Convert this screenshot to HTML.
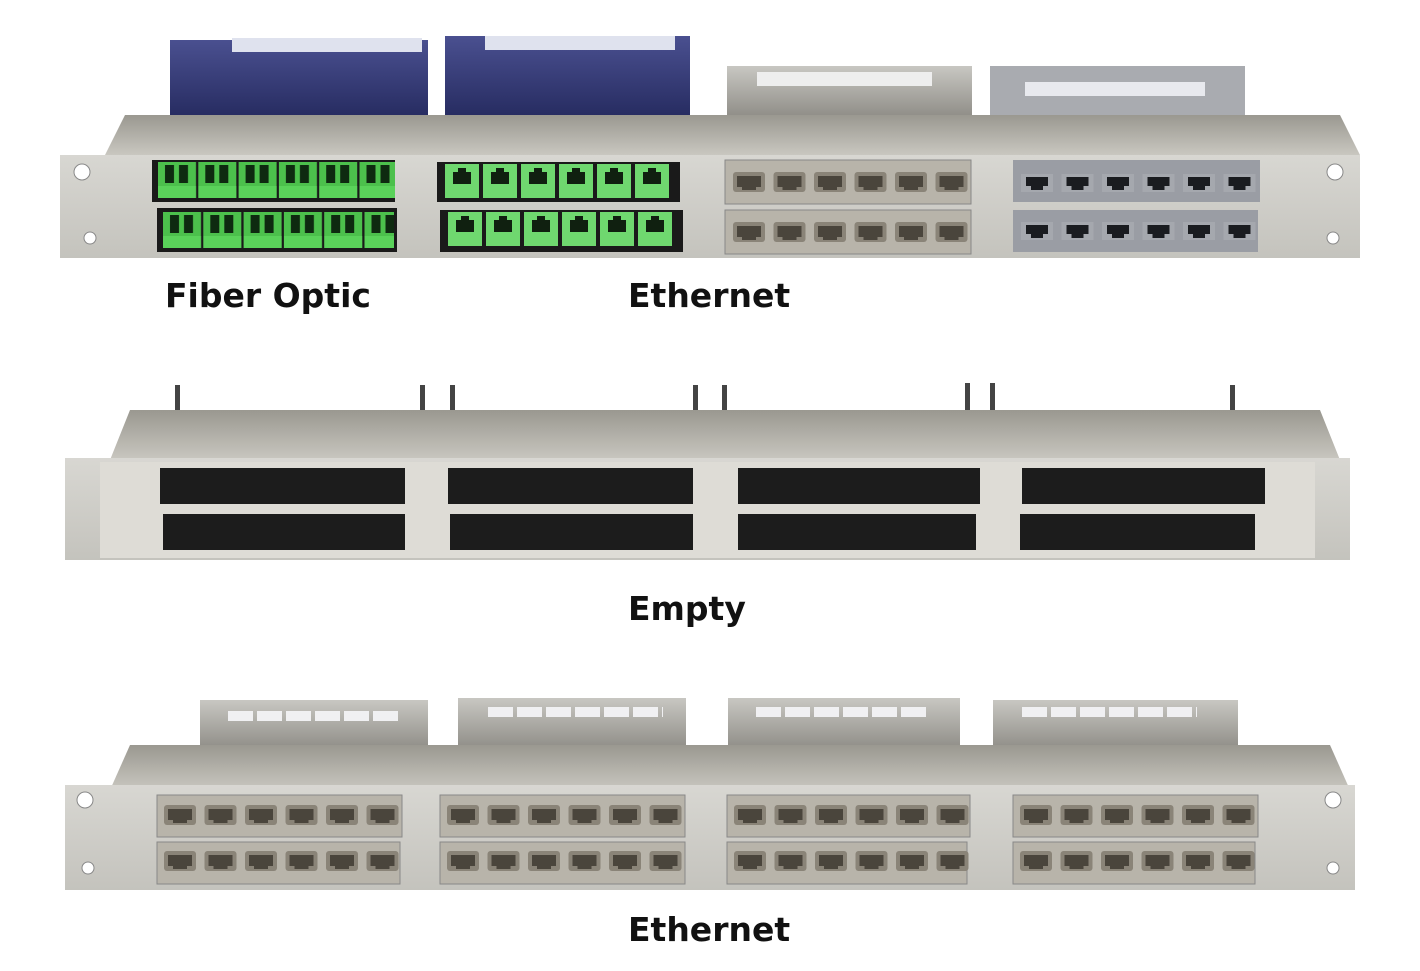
<!DOCTYPE html>
<html><head><meta charset="utf-8"><style>
html,body{margin:0;padding:0;background:#fff;width:1420px;height:971px;overflow:hidden}
svg{display:block}
text{font-family:"DejaVu Sans","Liberation Sans",sans-serif;font-weight:bold;fill:#111}
</style></head><body>
<svg width="1420" height="971" viewBox="0 0 1420 971" xmlns="http://www.w3.org/2000/svg">
<defs>
<linearGradient id="top" x1="0" y1="0" x2="0" y2="1">
<stop offset="0" stop-color="#9a9890"/><stop offset="1" stop-color="#c9c7c0"/></linearGradient>
<linearGradient id="front" x1="0" y1="0" x2="0" y2="1">
<stop offset="0" stop-color="#d8d7d2"/><stop offset="1" stop-color="#c4c3bd"/></linearGradient>
<linearGradient id="blue" x1="0" y1="0" x2="0" y2="1">
<stop offset="0" stop-color="#4a5090"/><stop offset="1" stop-color="#262b60"/></linearGradient>
<linearGradient id="mod" x1="0" y1="0" x2="0" y2="1">
<stop offset="0" stop-color="#c8c7c2"/><stop offset="1" stop-color="#8e8c86"/></linearGradient>
<pattern id="lc" width="40.3" height="40" patternUnits="userSpaceOnUse" x="157" y="160">
<rect x="1" y="2" width="38" height="36" fill="#4cc04c"/>
<rect x="8" y="5" width="9" height="18" fill="#0e2a10"/><rect x="22" y="5" width="9" height="18" fill="#0e2a10"/>
<rect x="1" y="26" width="38" height="12" fill="#5ad25a"/></pattern>
<pattern id="lc2" width="40.3" height="40" patternUnits="userSpaceOnUse" x="162" y="210">
<rect x="1" y="2" width="38" height="36" fill="#4cc04c"/>
<rect x="8" y="5" width="9" height="18" fill="#0e2a10"/><rect x="22" y="5" width="9" height="18" fill="#0e2a10"/>
<rect x="1" y="26" width="38" height="12" fill="#5ad25a"/></pattern>
<pattern id="sc" width="38" height="40" patternUnits="userSpaceOnUse" x="443" y="162">
<rect x="2" y="2" width="34" height="34" fill="#6fd86f"/>
<rect x="10" y="10" width="18" height="12" fill="#102010"/><rect x="15" y="6" width="8" height="6" fill="#102010"/></pattern>
<pattern id="rj" width="40.5" height="40" patternUnits="userSpaceOnUse" x="729" y="170">
<rect x="4" y="2" width="32" height="20" rx="3" fill="#8a8478"/>
<rect x="8" y="6" width="24" height="11" fill="#4a453c"/><rect x="13" y="15" width="14" height="5" fill="#4a453c"/></pattern>
<pattern id="rjb" width="40.5" height="40" patternUnits="userSpaceOnUse" x="1017" y="172">
<rect x="4" y="2" width="32" height="18" fill="#a5a8ae"/>
<rect x="9" y="5" width="22" height="9" fill="#1a1c20"/><rect x="14" y="12" width="12" height="6" fill="#1a1c20"/></pattern>
<pattern id="rj3" width="40.5" height="46" patternUnits="userSpaceOnUse" x="160" y="803">
<rect x="4" y="2" width="32" height="20" rx="3" fill="#8a8478"/>
<rect x="8" y="6" width="24" height="11" fill="#4a453c"/><rect x="13" y="15" width="14" height="5" fill="#4a453c"/></pattern>
</defs>

<!-- PANEL 1 -->
<g>
<rect x="170" y="40" width="258" height="78" fill="url(#blue)"/>
<rect x="232" y="38" width="190" height="14" fill="#dfe2ee"/>
<rect x="445" y="36" width="245" height="82" fill="url(#blue)"/>
<rect x="485" y="36" width="190" height="14" fill="#dfe2ee"/>
<rect x="727" y="66" width="245" height="52" fill="url(#mod)"/>
<rect x="757" y="72" width="175" height="14" fill="#eee"/>
<rect x="990" y="66" width="255" height="52" fill="#a9abb0"/>
<rect x="1025" y="82" width="180" height="14" fill="#e8e9ee"/>
<polygon points="105,155 125,115 1340,115 1360,155" fill="url(#top)"/>
<path d="M60,155 H1360 V258 H60 Z" fill="url(#front)"/>
<circle cx="82" cy="172" r="8" fill="#fff" stroke="#888"/><circle cx="90" cy="238" r="6" fill="#fff" stroke="#888"/>
<circle cx="1335" cy="172" r="8" fill="#fff" stroke="#888"/><circle cx="1333" cy="238" r="6" fill="#fff" stroke="#888"/>
<rect x="152" y="160" width="243" height="42" fill="#1a1a1a"/>
<rect x="157" y="160" width="238" height="40" fill="url(#lc)"/>
<rect x="157" y="208" width="240" height="44" fill="#1a1a1a"/>
<rect x="162" y="210" width="232" height="40" fill="url(#lc2)"/>
<rect x="437" y="162" width="243" height="40" fill="#1a1a1a"/>
<rect x="443" y="164" width="228" height="34" fill="url(#sc)"/>
<rect x="517" y="162" width="4" height="40" fill="#1a1a1a"/><rect x="593" y="162" width="4" height="40" fill="#1a1a1a"/>
<rect x="440" y="210" width="243" height="42" fill="#1a1a1a"/>
<g transform="translate(3,48)"><rect x="443" y="164" width="228" height="34" fill="url(#sc)"/></g>
<rect x="520" y="210" width="4" height="42" fill="#1a1a1a"/><rect x="596" y="210" width="4" height="42" fill="#1a1a1a"/>
<rect x="725" y="160" width="246" height="44" fill="#b8b4aa" stroke="#888"/>
<rect x="729" y="170" width="243" height="30" fill="url(#rj)"/>
<rect x="725" y="210" width="246" height="44" fill="#b8b4aa" stroke="#888"/>
<g transform="translate(0,50)"><rect x="729" y="170" width="243" height="30" fill="url(#rj)"/></g>
<rect x="1013" y="160" width="247" height="42" fill="#9a9da4"/>
<rect x="1017" y="172" width="243" height="24" fill="url(#rjb)"/>
<rect x="1013" y="210" width="245" height="42" fill="#9a9da4"/>
<g transform="translate(0,48)"><rect x="1017" y="172" width="243" height="24" fill="url(#rjb)"/></g>
</g>
<text x="165" y="307" font-size="33">Fiber Optic</text>
<text x="628" y="307" font-size="33">Ethernet</text>

<!-- PANEL 2 -->
<g>
<g fill="#444">
<rect x="175" y="385" width="5" height="25"/><rect x="420" y="385" width="5" height="25"/><rect x="450" y="385" width="5" height="25"/>
<rect x="693" y="385" width="5" height="25"/><rect x="722" y="385" width="5" height="25"/><rect x="965" y="383" width="5" height="27"/>
<rect x="990" y="383" width="5" height="27"/><rect x="1230" y="385" width="5" height="25"/></g>
<polygon points="110,460 130,410 1320,410 1340,460" fill="url(#top)"/>
<rect x="65" y="458" width="1285" height="102" fill="url(#front)"/>
<rect x="100" y="462" width="1215" height="96" fill="#dedcd6"/>
<g fill="#1c1c1c">
<rect x="160" y="468" width="245" height="36"/><rect x="448" y="468" width="245" height="36"/>
<rect x="738" y="468" width="242" height="36"/><rect x="1022" y="468" width="243" height="36"/>
<rect x="163" y="514" width="242" height="36"/><rect x="450" y="514" width="243" height="36"/>
<rect x="738" y="514" width="238" height="36"/><rect x="1020" y="514" width="235" height="36"/></g>
</g>
<text x="628" y="620" font-size="33">Empty</text>

<!-- PANEL 3 -->
<g>
<rect x="200" y="700" width="228" height="50" fill="url(#mod)"/>
<rect x="458" y="698" width="228" height="52" fill="url(#mod)"/>
<rect x="728" y="698" width="232" height="52" fill="url(#mod)"/>
<rect x="993" y="700" width="245" height="50" fill="url(#mod)"/>
<g stroke="#f0f0f2" stroke-width="10" stroke-dasharray="25 4">
<line x1="228" y1="716" x2="400" y2="716"/>
<line x1="488" y1="712" x2="663" y2="712"/>
<line x1="756" y1="712" x2="930" y2="712"/>
<line x1="1022" y1="712" x2="1197" y2="712"/>
</g>
<polygon points="110,790 130,745 1330,745 1350,790" fill="url(#top)"/>
<rect x="65" y="785" width="1290" height="105" fill="url(#front)"/>
<circle cx="85" cy="800" r="8" fill="#fff" stroke="#888"/><circle cx="88" cy="868" r="6" fill="#fff" stroke="#888"/>
<circle cx="1333" cy="800" r="8" fill="#fff" stroke="#888"/><circle cx="1333" cy="868" r="6" fill="#fff" stroke="#888"/>
<g fill="#b8b4aa" stroke="#888">
<rect x="157" y="795" width="245" height="42"/><rect x="440" y="795" width="245" height="42"/>
<rect x="727" y="795" width="243" height="42"/><rect x="1013" y="795" width="245" height="42"/>
<rect x="157" y="842" width="243" height="42"/><rect x="440" y="842" width="245" height="42"/>
<rect x="727" y="842" width="240" height="42"/><rect x="1013" y="842" width="242" height="42"/></g>
<rect x="160" y="803" width="243" height="26" fill="url(#rj3)"/>
<g transform="translate(283,0)"><rect x="160" y="803" width="243" height="26" fill="url(#rj3)"/></g>
<g transform="translate(570,0)"><rect x="160" y="803" width="243" height="26" fill="url(#rj3)"/></g>
<g transform="translate(856,0)"><rect x="160" y="803" width="243" height="26" fill="url(#rj3)"/></g>
<g transform="translate(0,46)"><rect x="160" y="803" width="243" height="26" fill="url(#rj3)"/></g>
<g transform="translate(283,46)"><rect x="160" y="803" width="243" height="26" fill="url(#rj3)"/></g>
<g transform="translate(570,46)"><rect x="160" y="803" width="243" height="26" fill="url(#rj3)"/></g>
<g transform="translate(856,46)"><rect x="160" y="803" width="243" height="26" fill="url(#rj3)"/></g>
</g>
<text x="628" y="941" font-size="33">Ethernet</text>
</svg>
</body></html>
